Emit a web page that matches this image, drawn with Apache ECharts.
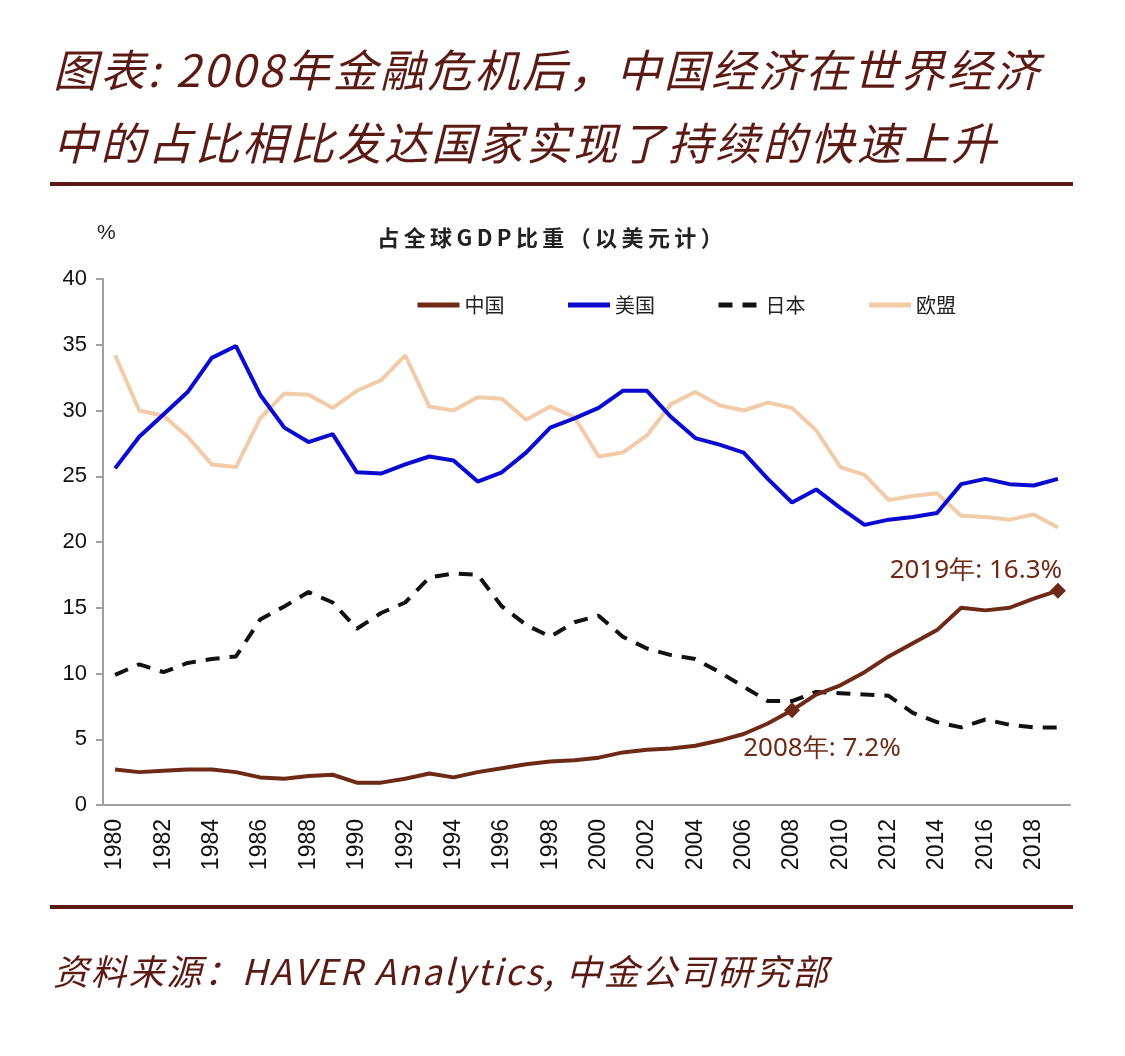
<!DOCTYPE html>
<html>
<head>
<meta charset="utf-8">
<script src="https://cdn.jsdelivr.net/npm/echarts@6/dist/echarts.min.js"></script>
<style>
  html, body { margin: 0; padding: 0; background: #fff; }
  #chart { width: 1125px; height: 1056px; }
</style>
</head>
<body>
<div id="chart"></div>
<script>
// 年份
var years = [];
for (var y = 1980; y <= 2019; y++) years.push(String(y));

// 占全球GDP比重 (%)
var china = [2.7, 2.5, 2.6, 2.7, 2.7, 2.5, 2.1, 2.0, 2.2, 2.3,
  1.7, 1.7, 2.0, 2.4, 2.1, 2.5, 2.8, 3.1, 3.3, 3.4,
  3.6, 4.0, 4.2, 4.3, 4.5, 4.9, 5.4, 6.2, 7.2, 8.4,
  9.1, 10.1, 11.3, 12.3, 13.3, 15.0, 14.8, 15.0, 15.7, 16.3];
var usa = [25.6, 28.0, 29.7, 31.4, 34.0, 34.9, 31.2, 28.7, 27.6, 28.2,
  25.3, 25.2, 25.9, 26.5, 26.2, 24.6, 25.3, 26.8, 28.7, 29.4,
  30.2, 31.5, 31.5, 29.5, 27.9, 27.4, 26.8, 24.8, 23.0, 24.0,
  22.6, 21.3, 21.7, 21.9, 22.2, 24.4, 24.8, 24.4, 24.3, 24.8];
var japan = [9.9, 10.7, 10.1, 10.8, 11.1, 11.3, 14.1, 15.1, 16.2, 15.4,
  13.4, 14.6, 15.4, 17.3, 17.6, 17.5, 15.1, 13.7, 12.8, 13.9,
  14.4, 12.8, 11.9, 11.4, 11.1, 10.1, 9.0, 7.9, 7.9, 8.6,
  8.5, 8.4, 8.3, 7.0, 6.3, 5.9, 6.5, 6.1, 5.9, 5.9];
var eu = [34.2, 30.0, 29.6, 28.0, 25.9, 25.7, 29.4, 31.3, 31.2, 30.2,
  31.5, 32.3, 34.2, 30.3, 30.0, 31.0, 30.9, 29.3, 30.3, 29.5,
  26.5, 26.8, 28.1, 30.5, 31.4, 30.4, 30.0, 30.6, 30.2, 28.5,
  25.7, 25.1, 23.2, 23.5, 23.7, 22.0, 21.9, 21.7, 22.1, 21.1];

var seriesNames = ["中国", "美国", "日本", "欧盟"];
var seriesColors = ["#6e2a16", "#0a0ad0", "#111111", "#f2cba8"];
var yTicks = [0, 5, 10, 15, 20, 25, 30, 35, 40];

var i2008 = years.indexOf("2008");
var i2019 = years.indexOf("2019");

var maroon = "#5c1a14";
var cjk = "'Noto Sans CJK SC', sans-serif";

// 字间距：在字符之间插入细空格
function spaced(str, sep) {
  return str.split("\n").map(function (line) {
    return line.split("").join(sep);
  }).join("\n");
}

var chart = echarts.init(document.getElementById("chart"));

var option = {
  backgroundColor: "#fff",
  animation: false,
  title: [
    {
      text: spaced("图表: 2008年金融危机后，中国经济在世界经济\n中的占比相比发达国家实现了持续的快速上升", "\u200A"),
      left: 48,
      top: 29,
      textStyle: {
        fontFamily: cjk,
        fontStyle: "italic",
        fontWeight: "normal",
        fontSize: 44.5,
        lineHeight: 73,
        color: maroon
      }
    },
    {
      text: spaced("占全球GDP比重（以美元计）", "\u2009"),
      left: 545,
      textAlign: "center",
      top: 222,
      textStyle: {
        fontFamily: cjk,
        fontWeight: "bold",
        fontSize: 22,
        color: "#222"
      }
    },
    {
      text: "%",
      left: 92,
      top: 218,
      textStyle: {
        fontFamily: "'Liberation Sans', Arial, sans-serif",
        fontWeight: "normal",
        fontSize: 21,
        color: "#222"
      }
    },
    {
      text: spaced("资料来源：HAVER Analytics, 中金公司研究部", "\u200A"),
      left: 48,
      top: 949,
      textStyle: {
        fontFamily: cjk,
        fontStyle: "italic",
        fontWeight: "normal",
        fontSize: 35.5,
        color: maroon
      }
    }
  ],
  graphic: [
    { type: "rect", shape: { x: 50, y: 182, width: 1023, height: 4 }, style: { fill: maroon } },
    { type: "rect", shape: { x: 50, y: 905, width: 1023, height: 4 }, style: { fill: maroon } }
  ],
  legend: {
    data: seriesNames,
    left: 410,
    top: 290,
    itemWidth: 42,
    itemHeight: 12,
    itemGap: 61,
    itemStyle: { opacity: 0 },
    lineStyle: { width: 5 },
    textStyle: {
      fontFamily: cjk,
      fontSize: 20,
      color: "#222"
    }
  },
  grid: {
    left: 103,
    right: 55,
    top: 279,
    bottom: 251,
    containLabel: false
  },
  xAxis: {
    type: "category",
    data: years,
    boundaryGap: true,
    axisLine: { lineStyle: { color: "#a0a0a0", width: 2 } },
    axisTick: {
      interval: 1,
      length: 8,
      lineStyle: { color: "#a0a0a0", width: 2 }
    },
    axisLabel: {
      interval: 1,
      rotate: 90,
      margin: 14,
      fontFamily: "'Liberation Sans', Arial, sans-serif",
      fontSize: 23,
      color: "#111"
    },
    splitLine: { show: false }
  },
  yAxis: {
    type: "value",
    min: yTicks[0],
    max: yTicks[yTicks.length - 1],
    interval: 5,
    axisLine: { show: true, lineStyle: { color: "#a0a0a0", width: 2 } },
    axisTick: { show: true, length: 7, lineStyle: { color: "#a0a0a0", width: 2 } },
    axisLabel: {
      margin: 16,
      fontFamily: "'Liberation Sans', Arial, sans-serif",
      fontSize: 22,
      color: "#111"
    },
    splitLine: { show: false }
  },
  series: [
    {
      name: seriesNames[0],
      type: "line",
      data: china,
      symbol: "none",
      z: 5,
      lineStyle: { color: seriesColors[0], width: 4 },
      itemStyle: { color: seriesColors[0] },
      markPoint: {
        symbol: "diamond",
        symbolSize: 16,
        itemStyle: { color: seriesColors[0] },
        label: {
          show: true,
          fontFamily: "'Noto Sans', sans-serif",
          fontSize: 26,
          color: "#6e2a16"
        },
        data: [
          {
            coord: [years[i2008], china[i2008]],
            label: { formatter: "2008年: 7.2%", position: "bottom", offset: [30, 12] }
          },
          {
            coord: [years[i2019], china[i2019]],
            label: { formatter: "2019年: 16.3%", position: "top", offset: [-82, 6] }
          }
        ]
      }
    },
    {
      name: seriesNames[1],
      type: "line",
      data: usa,
      symbol: "none",
      lineStyle: { color: seriesColors[1], width: 4 },
      itemStyle: { color: seriesColors[1] }
    },
    {
      name: seriesNames[2],
      type: "line",
      data: japan,
      symbol: "none",
      lineStyle: { color: seriesColors[2], width: 4, type: [14, 10] },
      itemStyle: { color: seriesColors[2] }
    },
    {
      name: seriesNames[3],
      type: "line",
      data: eu,
      symbol: "none",
      z: 1,
      lineStyle: { color: seriesColors[3], width: 4 },
      itemStyle: { color: seriesColors[3] }
    }
  ]
};

chart.setOption(option);
window.addEventListener("resize", function () {
  chart.resize();
});
</script>
</body>
</html>
